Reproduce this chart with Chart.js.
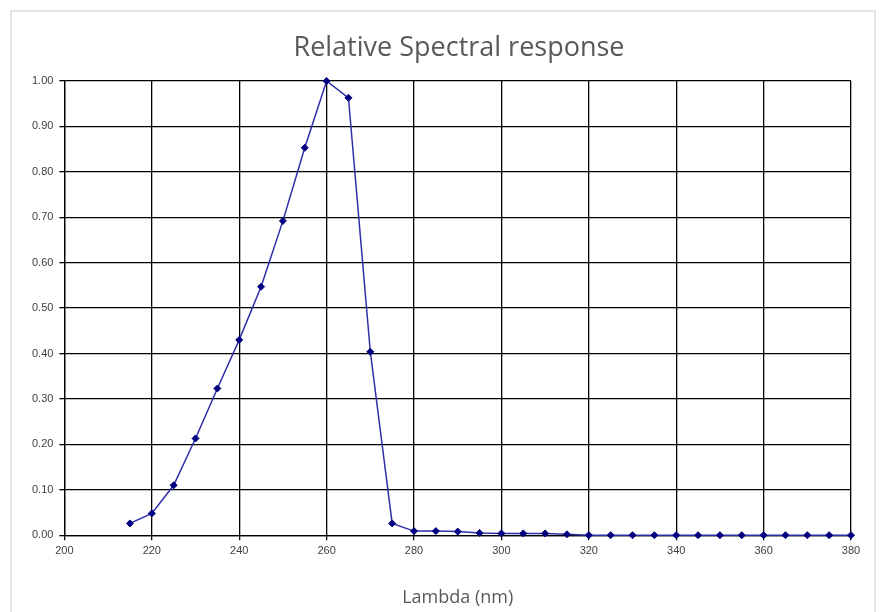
<!DOCTYPE html>
<html>
<head>
<meta charset="utf-8">
<script src="https://cdn.jsdelivr.net/npm/chart.js@4/dist/chart.umd.min.js"></script>
<style>
  html, body { margin: 0; padding: 0; background: #fff; }
  #frame { position: absolute; left: 10px; top: 10px; width: 866px; height: 610px;
           border: 2px solid #e3e3e3; border-bottom: none; box-sizing: border-box; }
  #wrap { position: absolute; left: 0; top: 0; width: 879px; height: 612px; }
</style>
</head>
<body>
<div id="frame"></div>
<div id="wrap"><canvas id="myChart"></canvas></div>
<script>
'use strict'

// wavelength (nm) and relative response
var lambda = [215, 220, 225, 230, 235, 240, 245, 250, 255, 260, 265, 270, 275, 280, 285, 290, 295, 300, 305, 310, 315,
  320, 325, 330, 335, 340, 345, 350, 355, 360, 365, 370, 375, 380];
var response = [0.026, 0.048, 0.110, 0.213, 0.323, 0.430, 0.547, 0.692, 0.853, 1.000, 0.963, 0.404, 0.026, 0.009, 0.009, 0.008, 0.005, 0.004, 0.004, 0.004, 0.002,
  0, 0, 0, 0, 0, 0, 0, 0, 0, 0, 0, 0, 0];

var xTicks = [200, 220, 240, 260, 280, 300, 320, 340, 360, 380];
var yTicks = [0, 0.1, 0.2, 0.3, 0.4, 0.5, 0.6, 0.7, 0.8, 0.9, 1.0];

var titleText = "Relative Spectral response";

var points = lambda.map(function (l, i) { return { x: l, y: response[i] }; });

// chart title, drawn a bit right of the canvas centre like the original
var titlePlugin = {
  id: 'sideTitle',
  afterDraw: function (chart) {
    var c = chart.ctx;
    c.save();
    c.fillStyle = '#595959';
    c.font = "27px 'Open Sans', Lato, sans-serif";
    c.textAlign = 'center';
    c.textBaseline = 'middle';
    c.fillText(titleText, 459, 48);
    c.restore();
  }
};

var ctx = document.getElementById("myChart");

var chart = new Chart(ctx, {
  type: 'line',
  data: {
    datasets: [{
      label: titleText,
      data: points,
      fill: false,
      clip: false,
      borderColor: '#2e2ea8',
      borderWidth: 1.5,
      pointStyle: 'rectRot',
      pointRadius: 3.5,
      pointBackgroundColor: '#000080',
      pointBorderColor: '#000080',
      pointBorderWidth: 1,
      tension: 0
    }]
  },
  plugins: [titlePlugin],
  options: {
    responsive: true,
    maintainAspectRatio: false,
    animation: false,
    layout: { padding: { left: 26, right: 28, top: 81, bottom: 3 } },
    plugins: {
      legend: { display: false },
      tooltip: { enabled: false },
      title: { display: false }
    },
    scales: {
      x: {
        type: 'linear',
        min: 200,
        max: 380,
        afterBuildTicks: function (axis) { axis.ticks = xTicks.map(function (v) { return { value: v }; }); },
        grid: { color: '#000', lineWidth: 1.3, drawTicks: true, tickLength: 5, tickColor: '#000' },
        border: { color: '#000', width: 1.3 },
        ticks: { color: '#404040', font: { family: "Arial, 'Liberation Sans', sans-serif", size: 11 }, padding: 4, maxRotation: 0 },
        title: {
          display: true,
          text: "Lambda (nm)",
          color: '#595959',
          font: { family: "'Open Sans', Lato, sans-serif", size: 18 },
          padding: { top: 26, bottom: 0 }
        }
      },
      y: {
        min: 0,
        max: 1,
        afterBuildTicks: function (axis) { axis.ticks = yTicks.map(function (v) { return { value: v }; }); },
        grid: { color: '#000', lineWidth: 1.3, drawTicks: true, tickLength: 5, tickColor: '#000' },
        border: { color: '#000', width: 1.3 },
        ticks: {
          color: '#404040',
          font: { family: "Arial, 'Liberation Sans', sans-serif", size: 11 },
          padding: 6,
          callback: function (v) { return Number(v).toFixed(2); }
        }
      }
    }
  }
});
</script>
</body>
</html>
